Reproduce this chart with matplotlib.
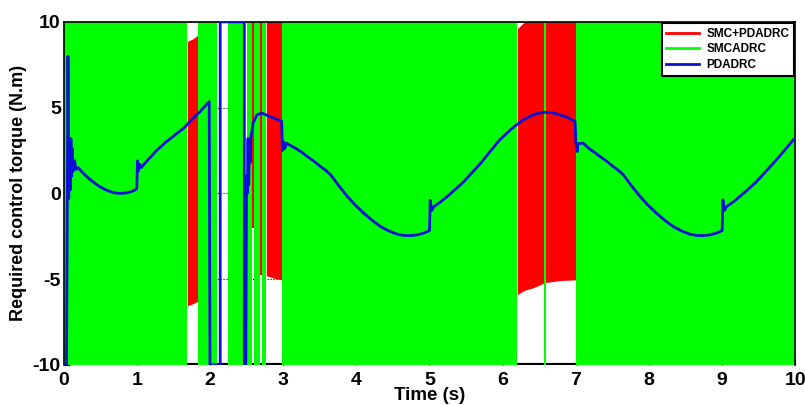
import numpy as np
import matplotlib
import matplotlib.pyplot as plt

matplotlib.use("Agg")
plt.rcParams["axes.unicode_minus"] = False

# SMCADRC chatters between the limits, shown as solid green bands
green_starts = [0.00, 1.83, 2.24, 2.50, 2.60, 2.71, 2.99, 6.57, 7.00]
green_ends = [1.69, 2.09, 2.47, 2.58, 2.69, 2.77, 6.20, 6.59, 10.00]
green_low = -10
green_high = 10

# SMC+PDADRC chattering envelopes (time, upper, lower)
red1_t = [1.69, 1.76, 1.83]
red1_top = [8.85, 9.0, 9.2]
red1_bot = [-6.55, -6.45, -6.3]
red2_t = [2.58, 2.60]
red2_top = [10, 10]
red2_bot = [-2.0, -2.0]
red3_t = [2.69, 2.71]
red3_top = [10, 10]
red3_bot = [-4.75, -4.75]
red4_t = [2.77, 2.88, 2.99]
red4_top = [10, 10, 10]
red4_bot = [-4.8, -4.95, -5.05]
red5_t = [6.20, 6.30, 6.42, 6.58, 6.78, 7.00]
red5_top = [9.6, 10, 10, 10, 10, 10]
red5_bot = [-5.9, -5.65, -5.5, -5.2, -5.08, -5.04]

# PDADRC torque
blue_t = [0.00, 0.04, 0.06, 0.07, 0.08, 0.09, 0.10, 0.11, 0.12, 0.13, 0.15, 0.17,
          0.20, 0.25, 0.30, 0.35, 0.40, 0.45, 0.50, 0.57, 0.64, 0.70, 0.77, 0.84,
          0.91, 0.98, 1.00, 1.01, 1.02, 1.04, 1.06, 1.15, 1.27, 1.40, 1.52, 1.64,
          1.75, 1.86, 1.99, 2.00, 2.14, 2.14, 2.47, 2.47, 2.49, 2.50,
          2.51, 2.52, 2.53, 2.54, 2.55, 2.56, 2.59, 2.64, 2.71, 2.82, 2.98, 2.99,
          3.01, 3.02, 3.05, 3.12, 3.19, 3.26, 3.33, 3.42, 3.50, 3.58, 3.65, 3.76,
          3.88, 3.99, 4.10, 4.22, 4.33, 4.45, 4.56, 4.65, 4.74, 4.83, 4.92, 5.00,
          5.01, 5.03, 5.06, 5.15, 5.24, 5.35, 5.47, 5.58, 5.70, 5.83, 5.96, 6.08,
          6.19, 6.30, 6.42, 6.50, 6.58, 6.68, 6.78, 6.89, 6.99, 7.00, 7.02, 7.03,
          7.10, 7.19, 7.26, 7.33, 7.42, 7.50, 7.58, 7.65, 7.76, 7.88, 7.99, 8.10,
          8.22, 8.33, 8.45, 8.56, 8.65, 8.74, 8.83, 8.92, 9.00, 9.01, 9.03, 9.06,
          9.15, 9.24, 9.35, 9.47, 9.58, 9.70, 9.84, 9.98]
blue_u = [-10, -10, 8.0, -0.3, 3.0, 0.2, 3.2, 1.0, 2.6, 1.3, 1.9, 1.4,
          1.5, 1.25, 1.05, 0.85, 0.68, 0.52, 0.38, 0.22, 0.1, 0.03, 0.0, 0.02,
          0.08, 0.2, 0.3, 1.9, 1.3, 1.7, 1.5, 1.95, 2.5, 3.0, 3.4, 3.8,
          4.3, 4.75, 5.35, -10, -10, 10, 10, -10, -10, 1.0,
          0.0, 3.2, 0.5, 3.0, 1.8, 3.3, 4.1, 4.58, 4.68, 4.48, 4.2, 2.5,
          3.0, 2.6, 2.93, 2.75, 2.58, 2.38, 2.15, 1.88, 1.6, 1.35, 1.08, 0.45,
          -0.19, -0.7, -1.15, -1.58, -1.93, -2.2, -2.38, -2.45, -2.46, -2.42, -2.32, -2.17,
          -0.4, -1.0, -0.77, -0.5, -0.19, 0.22, 0.69, 1.2, 1.76, 2.45, 3.12, 3.6,
          4.0, 4.33, 4.58, 4.69, 4.73, 4.7, 4.58, 4.42, 4.19, 3.0, 2.44, 2.9,
          2.93, 2.58, 2.38, 2.15, 1.88, 1.6, 1.35, 1.08, 0.45, -0.19, -0.7, -1.15,
          -1.58, -1.93, -2.2, -2.38, -2.45, -2.46, -2.42, -2.32, -2.17, -0.38, -1.0, -0.77,
          -0.5, -0.19, 0.22, 0.69, 1.2, 1.76, 2.45, 3.16]

RED = "#ff0000"
GREEN = "#00ff00"
BLUE = "#0a10d6"
FONT = ["Liberation Sans", "DejaVu Sans"]

fig = plt.figure(figsize=(8.05, 4.05), dpi=100)
ax = fig.add_axes([0.079, 0.099, 0.909, 0.847])

red_sets = [(red1_t, red1_top, red1_bot), (red2_t, red2_top, red2_bot),
            (red3_t, red3_top, red3_bot), (red4_t, red4_top, red4_bot),
            (red5_t, red5_top, red5_bot)]
for t, top, bot in red_sets:
    ax.fill_between(t, bot, top, color=RED, lw=0, zorder=1)

for s, e in zip(green_starts, green_ends):
    ax.fill_between([s, e], green_low, green_high, color=GREEN, lw=0, zorder=1.5)

ax.plot(blue_t, blue_u, color=BLUE, lw=2, zorder=3)

# black baseline only visible where no fill covers it
ax.axhline(-10, color="k", lw=3, zorder=0.8)
ax.spines["bottom"].set_visible(False)

ax.set_xlim(0, 10)
ax.set_ylim(-10, 10)
ax.set_xticks(np.arange(0, 11, 1))
ax.set_yticks([-10, -5, 0, 5, 10])
ax.grid(True, color="k", ls=":", lw=0.8)
ax.set_axisbelow(True)
ax.tick_params(direction="in", length=4, labelsize=14)
for lab in ax.get_xticklabels() + ax.get_yticklabels():
    lab.set_family(FONT)
    lab.set_fontweight("bold")
ax.tick_params(axis="x", pad=5)
ax.tick_params(axis="y", pad=2)
for sp in ["top", "left", "right"]:
    ax.spines[sp].set_linewidth(1.2)

ax.set_xlabel("Time (s)", fontsize=13.5, fontweight="bold", family=FONT, labelpad=-1)
ax.set_ylabel("Required control torque (N.m)", fontsize=13, fontweight="bold",
              family=FONT, labelpad=4)

handles = [plt.Line2D([], [], color=RED, lw=2),
           plt.Line2D([], [], color=GREEN, lw=2),
           plt.Line2D([], [], color=BLUE, lw=2)]
leg = ax.legend(handles, ["SMC+PDADRC", "SMCADRC", "PDADRC"], loc="upper right",
                prop={"family": FONT, "weight": "bold", "size": 8.5},
                fancybox=False, framealpha=1, edgecolor="k", handlelength=2.8,
                borderaxespad=0.1, labelspacing=0.3, handletextpad=0.6)
leg.get_frame().set_linewidth(1.5)
leg.set_zorder(5)

fig.savefig("out.png", dpi=100)
